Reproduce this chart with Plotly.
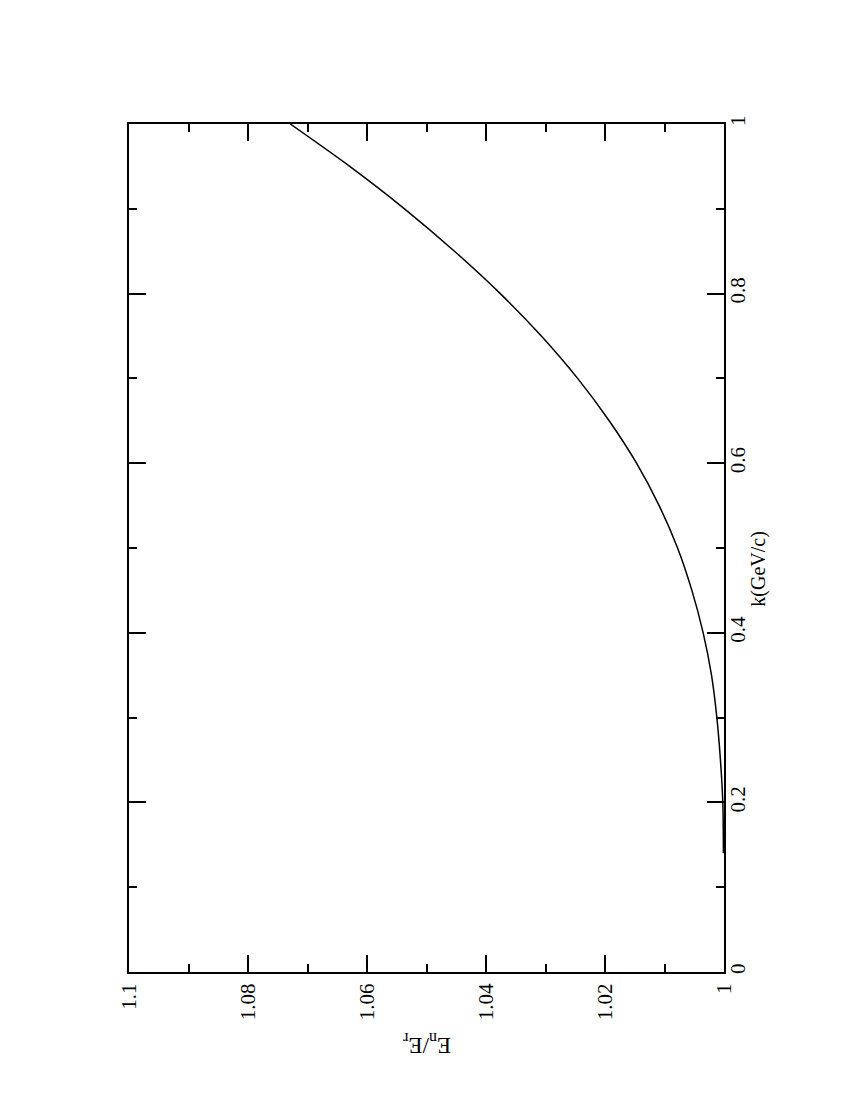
import plotly.graph_objects as go

# momentum k (GeV/c) and ratio E_n/E_r
k_vals = [0.14, 0.20, 0.25, 0.30, 0.35, 0.40, 0.45, 0.50, 0.55, 0.60,
          0.65, 0.70, 0.75, 0.80, 0.85, 0.90, 0.95, 1.00]
ratio_vals = [1.0001, 1.0002, 1.0006, 1.0012, 1.0021, 1.0035, 1.0054, 1.0078, 1.0109, 1.0147,
              1.0193, 1.0246, 1.0307, 1.0376, 1.0453, 1.0537, 1.0629, 1.0729]

ratio_ticks = [1.0, 1.02, 1.04, 1.06, 1.08, 1.1]
ratio_labels = ["1", "1.02", "1.04", "1.06", "1.08", "1.1"]
k_ticks = [0, 0.2, 0.4, 0.6, 0.8, 1.0]
k_labels = ["0", "0.2", "0.4", "0.6", "0.8", "1"]

FONT = "Liberation Serif"

fig = go.Figure()
fig.add_trace(go.Scatter(x=ratio_vals, y=k_vals, mode="lines",
                         line=dict(color="black", width=1.5, shape="spline", smoothing=0.8),
                         showlegend=False))

fig.update_layout(
    width=850, height=1100,
    margin=dict(l=121, r=134, t=116, b=136),
    plot_bgcolor="white", paper_bgcolor="white",
    font=dict(family=FONT, size=21, color="black"),
    xaxis=dict(range=[1.1, 1.0], tickvals=ratio_ticks, ticktext=ratio_labels,
               tickangle=-90, ticks="inside", ticklen=17, tickwidth=1.5, tickcolor="black",
               minor=dict(ticks="inside", ticklen=8, tickwidth=1.5, tickcolor="black", dtick=0.01, tick0=1.0),
               showline=True, linecolor="black", linewidth=2, mirror="allticks",
               showgrid=False, zeroline=False, ticklabelstandoff=1),
    yaxis=dict(range=[0, 1], side="right", tickvals=k_ticks, ticktext=k_labels,
               tickangle=-90, ticks="inside", ticklen=17, tickwidth=1.5, tickcolor="black",
               minor=dict(ticks="inside", ticklen=8, tickwidth=1.5, tickcolor="black", dtick=0.1, tick0=0),
               showline=True, linecolor="black", linewidth=2, mirror="allticks",
               showgrid=False, zeroline=False, ticklabelstandoff=-6),
)

fig.add_annotation(text="k(GeV/c)", x=1.0, y=0.475, xref="paper", yref="paper",
                   xshift=48, yanchor="middle", showarrow=False, textangle=-90,
                   font=dict(family=FONT, size=20))
fig.add_annotation(text="E<sub>n</sub>/E<sub>r</sub>", x=1.05, y=0.0, xref="x", yref="paper",
                   yshift=-72, yanchor="middle", showarrow=False, textangle=180,
                   font=dict(family=FONT, size=23))

fig.write_html("out.html")
